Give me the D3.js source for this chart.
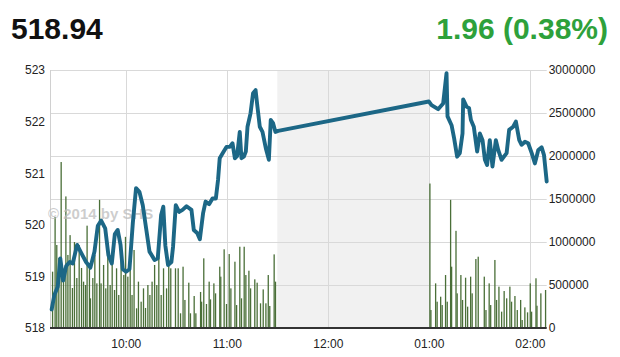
<!DOCTYPE html>
<html lang="en">
<head>
<meta charset="UTF-8">
<title>Index intraday</title>
<script src="https://d3js.org/d3.v7.min.js"></script>
<style>
    body { margin: 0; background: #fff; }
    #chart text { font-family: "Liberation Sans", Arial, sans-serif; }
</style>
</head>
<body>
<div id="chart"></div>
<script>
// header values
var lastValue = "518.94";
var changeText = "1.96 (0.38%)";

// index line: minutes after midnight, index value
var indexTimes = [556.0, 557.6, 559.6, 561.1, 562.8, 564.6, 566.7, 568.5, 571.1, 573.6, 576.4, 579.0, 581.4, 583.4, 585.4, 587.8, 589.7, 591.7, 593.5, 595.2, 596.9, 598.2, 600.2, 602.2, 604.2, 606.1, 608.1, 610.1, 612.1, 614.1, 617.1, 619.0, 621.0, 622.3, 623.5, 625.1, 627.1, 628.1, 629.7, 631.7, 633.7, 636.1, 639.0, 640.4, 642.4, 644.0, 645.9, 647.4, 649.5, 651.5, 653.5, 654.8, 655.8, 657.8, 659.8, 661.8, 663.4, 664.8, 666.1, 667.7, 668.7, 670.1, 671.3, 672.3, 674.1, 675.6, 677.1, 678.2, 679.6, 681.2, 683.2, 685.0, 686.1, 687.5, 688.9, 690.5,
    780.0, 781.6, 785.5, 788.5, 790.5, 791.1, 793.5, 795.0, 796.8, 798.4, 800.0, 800.4, 802.4, 803.9, 805.0, 806.7, 808.7, 810.3, 811.9, 813.3, 814.6, 816.2, 817.8, 819.8, 821.2, 823.2, 826.2, 827.7, 830.1, 831.7, 833.7, 835.1, 837.1, 839.0, 841.1, 843.0, 845.0, 847.0, 848.4, 850.0];
var indexValues = [518.36, 518.64, 518.80, 519.35, 518.92, 519.20, 519.28, 519.25, 519.61, 519.45, 519.28, 519.17, 519.48, 519.98, 520.08, 519.93, 519.41, 519.25, 519.82, 519.90, 519.61, 519.14, 519.09, 519.14, 520.04, 520.71, 520.64, 520.38, 519.93, 519.48, 519.32, 519.35, 520.19, 520.35, 519.60, 519.22, 519.28, 519.58, 520.38, 520.25, 520.29, 520.36, 520.29, 519.90, 519.84, 519.72, 520.22, 520.45, 520.40, 520.51, 520.51, 520.87, 521.29, 521.40, 521.51, 521.51, 521.58, 521.29, 521.33, 521.80, 521.29, 521.32, 521.42, 521.90, 522.16, 522.55, 522.61, 522.29, 521.90, 521.80, 521.48, 521.26, 522.03, 521.97, 521.80, 521.82,
    522.39, 522.32, 522.24, 522.35, 522.94, 522.10, 521.93, 521.68, 521.32, 521.39, 521.77, 522.43, 522.29, 522.26, 522.03, 521.90, 521.42, 521.77, 521.64, 521.26, 521.16, 521.64, 521.13, 521.64, 521.45, 521.26, 521.39, 521.84, 521.90, 522.00, 521.64, 521.55, 521.61, 521.58, 521.39, 521.19, 521.45, 521.50, 521.35, 520.84];

// volume bars: minutes after midnight, shares
var volTimes = [556.5, 558.0, 559.0, 560.2, 561.6, 563.0, 564.4, 565.6, 566.9, 568.3, 569.5, 570.9, 572.3, 573.7, 574.9, 576.1, 577.0, 578.4, 579.0, 580.4, 581.6, 582.8, 584.4, 585.3, 586.8, 588.1, 589.3, 590.7, 591.9, 593.3, 594.5, 595.8, 597.2, 598.8, 599.8, 601.2, 602.6, 603.7, 604.9, 606.4, 607.5, 609.1, 610.5, 611.7, 613.1, 614.3, 615.6, 617.1, 618.4, 619.6, 621.0, 622.4,
    624.2, 625.5, 626.7, 629.5, 631.1, 632.5, 634.0, 635.1, 637.4, 638.4, 640.6, 641.6, 644.4, 645.0, 646.3, 647.9, 649.5, 650.3, 652.3, 653.3, 655.8, 656.4, 658.4, 659.8, 661.4, 662.4, 664.8, 665.8, 667.7, 668.7, 670.3, 671.3, 673.1, 674.1, 676.6, 678.0, 680.0, 681.6, 683.2, 684.6, 685.5, 688.1, 688.9,
    780.6, 781.2, 784.0, 784.9, 787.0, 787.9, 789.9, 790.9, 792.9, 793.5, 796.1, 796.8, 799.0, 800.0, 801.8, 803.0, 804.8, 805.7, 807.9, 809.3, 812.9, 813.9, 815.8, 816.7, 819.2, 820.2, 821.6, 823.2, 824.7, 826.2, 828.1, 829.1, 831.1, 832.5, 834.5, 835.4, 837.0, 838.6, 840.2, 841.0, 843.6, 844.2, 846.5, 849.3];
var volValues = [655, 1290, 965, 814, 1930, 558, 1530, 849, 1080, 465, 1000, 581, 965, 698, 539, 500, 1190, 713, 345, 581, 849, 519, 1490, 519, 733, 461, 849, 500, 733, 442, 694, 384, 810, 616, 1060, 597, 810, 384, 907, 229, 539, 306, 461, 233, 500, 384, 539, 733, 500, 849, 384, 694,
    461, 791, 694, 694, 694, 171, 713, 326, 527, 171, 372, 171, 419, 306, 810, 279, 539, 333, 519, 403, 713, 597, 915, 279, 860, 461, 771, 267, 945, 345, 945, 616, 666, 461, 566, 527, 287, 449, 287, 616, 256, 856, 539,
    1680, 209, 519, 306, 364, 267, 616, 306, 1490, 713, 1130, 403, 616, 326, 585, 248, 597, 403, 802, 829, 597, 209, 519, 267, 791, 326, 481, 190, 430, 345, 481, 306, 372, 209, 326, 93, 240, 182, 519, 190, 578, 259, 403, 442]
    .map(function(v) { return v * 1000; });

// axes
var hourTicks = [600, 660, 720, 780, 840];
var hourLabels = ["10:00", "11:00", "12:00", "01:00", "02:00"];
var indexTicks = [518, 519, 520, 521, 522, 523];
var volTicks = [0, 500000, 1000000, 1500000, 2000000, 2500000, 3000000];
var lunchBreak = [690, 780];

var W = 620, H = 357;
var plot = {left: 50, right: 546.7, top: 70, bottom: 328};

var svg = d3.select("#chart").append("svg")
    .attr("width", W)
    .attr("height", H);

var x = d3.scaleLinear().domain([555, 850]).range([plot.left, plot.right]);
var yIdx = d3.scaleLinear().domain([518, 523]).range([plot.bottom, plot.top]);
var yVol = d3.scaleLinear().domain([0, 3000000]).range([plot.bottom, plot.top]);

// lunch break shading
svg.append("rect")
    .attr("x", x(lunchBreak[0]))
    .attr("y", plot.top)
    .attr("width", x(lunchBreak[1]) - x(lunchBreak[0]))
    .attr("height", plot.bottom - plot.top)
    .attr("fill", "#f1f1f1");

// grid lines
svg.append("g").selectAll("line")
    .data(volTicks.slice(1))
    .enter().append("line")
    .attr("x1", plot.left).attr("x2", plot.right)
    .attr("y1", function(d) { return Math.round(yVol(d)) + 0.5; })
    .attr("y2", function(d) { return Math.round(yVol(d)) + 0.5; })
    .attr("stroke", "#d9d9d9");
svg.append("g").selectAll("line")
    .data(hourTicks)
    .enter().append("line")
    .attr("x1", function(d) { return Math.round(x(d)) + 0.5; })
    .attr("x2", function(d) { return Math.round(x(d)) + 0.5; })
    .attr("y1", plot.top).attr("y2", plot.bottom)
    .attr("stroke", "#d9d9d9");
svg.append("line")
    .attr("x1", plot.left + 0.5).attr("x2", plot.left + 0.5)
    .attr("y1", plot.top).attr("y2", plot.bottom)
    .attr("stroke", "#d0d0d0");

// volume bars
svg.append("g").selectAll("rect")
    .data(volTimes)
    .enter().append("rect")
    .attr("x", function(d) { return x(d) - 0.6; })
    .attr("width", 1.3)
    .attr("y", function(d, i) { return yVol(volValues[i]); })
    .attr("height", function(d, i) { return plot.bottom - yVol(volValues[i]); })
    .attr("fill", "#4a6f38");

// watermark
svg.append("text")
    .attr("x", 48)
    .attr("y", 219)
    .attr("fill", "#bdbdbd")
    .attr("fill-opacity", 0.75)
    .style("font-size", "15px")
    .style("font-weight", "bold")
    .text("\u00a9 2014 by SHS");

// index line
var line = d3.line()
    .x(function(d) { return x(d); })
    .y(function(d, i) { return yIdx(indexValues[i]); });
svg.append("path")
    .datum(indexTimes)
    .attr("d", line)
    .attr("fill", "none")
    .attr("stroke", "#1c6786")
    .attr("stroke-width", 3.9)
    .attr("stroke-linejoin", "round")
    .attr("stroke-linecap", "round");

// bottom baseline
svg.append("line")
    .attr("x1", plot.left).attr("x2", plot.right)
    .attr("y1", plot.bottom).attr("y2", plot.bottom)
    .attr("stroke", "#333")
    .attr("stroke-width", 2);

// axes
var axisLeft = d3.axisLeft(yIdx).tickValues(indexTicks).tickSize(0).tickPadding(5).tickFormat(d3.format("d"));
svg.append("g")
    .attr("transform", "translate(" + plot.left + ",0)")
    .call(axisLeft)
    .call(function(g) { g.select(".domain").remove(); });

var axisRight = d3.axisRight(yVol).tickValues(volTicks).tickSize(0).tickPadding(2).tickFormat(d3.format("d"));
svg.append("g")
    .attr("transform", "translate(" + plot.right + ",0)")
    .call(axisRight)
    .call(function(g) { g.select(".domain").remove(); });

var axisBottom = d3.axisBottom(x).tickValues(hourTicks).tickSize(0).tickPadding(11)
    .tickFormat(function(d, i) { return hourLabels[i]; });
svg.append("g")
    .attr("transform", "translate(0," + plot.bottom + ")")
    .call(axisBottom)
    .call(function(g) { g.select(".domain").remove(); });

svg.selectAll(".tick text")
    .attr("fill", "#222")
    .style("font-size", "12px")
    .style("font-family", "'Liberation Sans', Arial, sans-serif");

// header
svg.append("text")
    .attr("x", 11)
    .attr("y", 38.5)
    .attr("fill", "#111")
    .style("font-size", "30px")
    .style("font-weight", "bold")
    .text(lastValue);
svg.append("text")
    .attr("x", 608)
    .attr("y", 38.5)
    .attr("text-anchor", "end")
    .attr("fill", "#2ea13b")
    .style("font-size", "30px")
    .style("font-weight", "bold")
    .text(changeText);
</script>
</body>
</html>
